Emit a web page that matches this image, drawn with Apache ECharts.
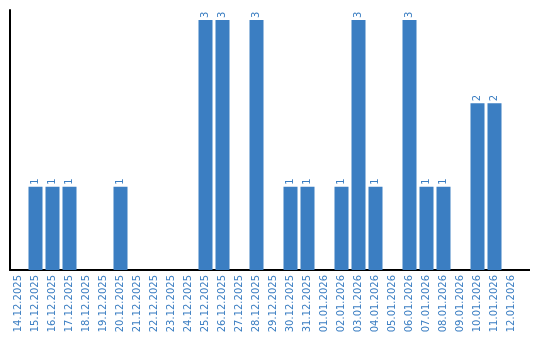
<!DOCTYPE html>
<html><head><meta charset="utf-8">
<script src="https://cdn.jsdelivr.net/npm/echarts@6/dist/echarts.min.js"></script>
<style>html,body{margin:0;padding:0;background:#fff}#c{width:540px;height:340px}</style>
</head><body><div id="c"></div>
<script>
const categories = ["14.12.2025","15.12.2025","16.12.2025","17.12.2025","18.12.2025","19.12.2025","20.12.2025","21.12.2025","22.12.2025","23.12.2025","24.12.2025","25.12.2025","26.12.2025","27.12.2025","28.12.2025","29.12.2025","30.12.2025","31.12.2025","01.01.2026","02.01.2026","03.01.2026","04.01.2026","05.01.2026","06.01.2026","07.01.2026","08.01.2026","09.01.2026","10.01.2026","11.01.2026","12.01.2026"];
const values = [0,1,1,1,0,0,1,0,0,0,0,3,3,0,3,0,1,1,0,1,3,1,0,3,1,1,0,2,2,0];
const blue = '#3b7ec2';
const chart = echarts.init(document.getElementById('c'), null, {renderer:'canvas'});
chart.setOption({
  animation:false,
  grid:{left:10, top:10, width:510, height:260, containLabel:false},
  xAxis:{type:'category', data:categories,
    axisLine:{show:true, lineStyle:{color:'#000', width:2}},
    axisTick:{show:false},
    axisLabel:{rotate:90, interval:0, color:blue, fontFamily:'DejaVu Sans', fontSize:10, margin:5}},
  yAxis:{type:'value', min:0, max:3.12, splitLine:{show:false},
    axisLine:{show:true, lineStyle:{color:'#000', width:2}},
    axisTick:{show:false}, axisLabel:{show:false}},
  series:[{type:'bar', data:values, barWidth:14,
    itemStyle:{color:blue},
    label:{show:true, position:'top', rotate:90, align:'left', verticalAlign:'middle', distance:2,
      color:blue, fontFamily:'DejaVu Sans', fontSize:10,
      formatter:p=>p.value? String(p.value):''}}],
  graphic:[{type:'line', shape:{x1:520,y1:270,x2:530,y2:270}, style:{stroke:'#000', lineWidth:2}}]
});
</script></body></html>
